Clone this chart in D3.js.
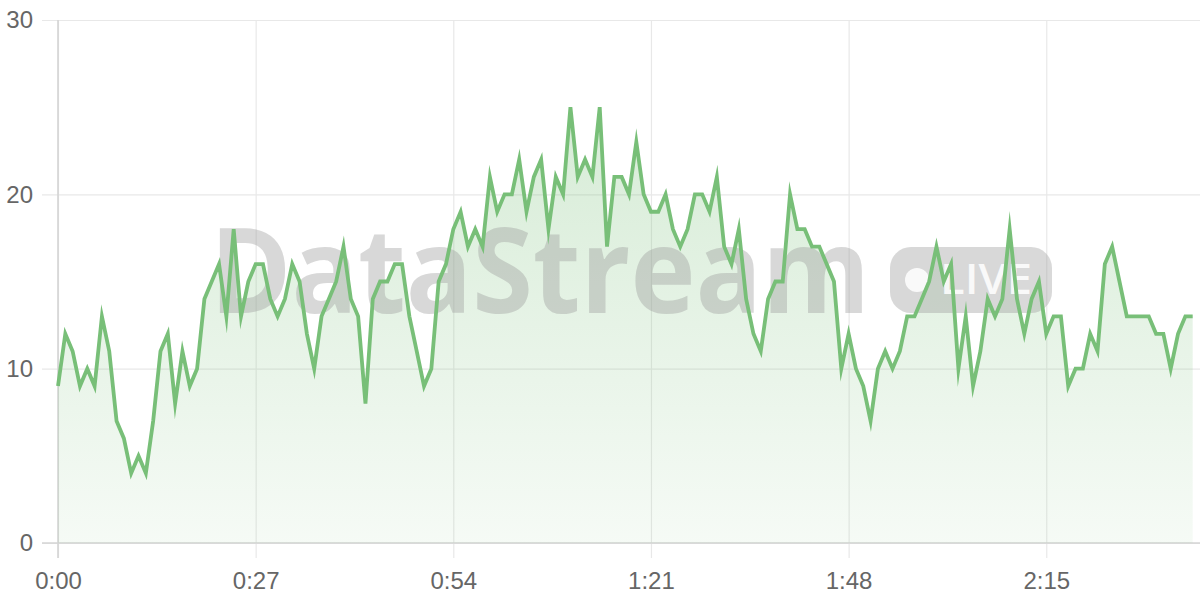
<!DOCTYPE html>
<html>
<head>
<meta charset="utf-8">
<script src="https://cdn.jsdelivr.net/npm/d3@7"></script>
<style>
  body { margin: 0; background: #fff; }
  svg { display: block; }
  .tick text { font-family: "Liberation Sans", Arial, sans-serif; font-size: 24px; fill: #666; }
</style>
</head>
<body>
<div id="chart"></div>
<script>
// chart size
let width = 1200, height = 600;
let margin = { top: 20, right: 0, bottom: 57, left: 58 };

// values, one per second
const counts = [
  9,12,11,9,10,9,13,11,7,6,
  4,5,4,7,11,12,8,11,9,10,
  14,15,16,13,18,13,15,16,16,14,
  13,14,16,15,12,10,13,14,15,17,
  14,13,8,14,15,15,16,16,13,11,
  9,10,15,16,18,19,17,18,17,21,
  19,20,20,22,19,21,22,18,21,20,
  25,21,22,21,25,17,21,21,20,23,
  20,19,19,20,18,17,18,20,20,19,
  21,17,16,18,14,12,11,14,15,15,
  20,18,18,17,17,16,15,10,12,10,
  9,7,10,11,10,11,13,13,14,15,
  17,15,16,10,13,9,11,14,13,14,
  18,14,12,14,15,12,13,13,9,10,
  10,12,11,16,17,15,13,13,13,13,
  12,12,10,12,13,13
];
const seconds = counts.map((d, i) => i);   // sample time in seconds

// axes
const xTickValues = [0, 27, 54, 81, 108, 135];
const xTickLabels = ["0:00", "0:27", "0:54", "1:21", "1:48", "2:15"];
const yTickValues = [0, 10, 20, 30];
const xMax = 156, yMax = 30;

const lineColor = "#78bf78";

let svg = d3.select("#chart").append("svg")
  .attr("width", width)
  .attr("height", height);

let x = d3.scaleLinear().domain([0, xMax]).range([margin.left, width - margin.right]);
let y = d3.scaleLinear().domain([0, yMax]).range([height - margin.bottom, margin.top]);

// gradient for the area
let grad = svg.append("defs").append("linearGradient")
  .attr("id", "fillGrad")
  .attr("gradientUnits", "userSpaceOnUse")
  .attr("x1", 0).attr("x2", 0)
  .attr("y1", y(25)).attr("y2", y(0));
grad.append("stop").attr("offset", 0).attr("stop-color", lineColor).attr("stop-opacity", 0.3);
grad.append("stop").attr("offset", 1).attr("stop-color", lineColor).attr("stop-opacity", 0.07);

// Y grid + labels
let yAxis = svg.append("g")
  .attr("transform", "translate(" + margin.left + ",0)")
  .call(d3.axisLeft(y).tickValues(yTickValues).tickSize(-(width - margin.left - margin.right)).tickPadding(25));
yAxis.select(".domain").remove();
yAxis.selectAll(".tick line").attr("x1", -16).attr("stroke", "#e8e8e8").attr("stroke-width", 1.2);
yAxis.selectAll(".tick text").attr("x", -25);

// X grid + labels
let xAxis = svg.append("g")
  .attr("transform", "translate(0," + (height - margin.bottom) + ")")
  .call(d3.axisBottom(x).tickValues(xTickValues)
    .tickFormat((d, i) => xTickLabels[i])
    .tickSize(-(height - margin.bottom - margin.top)).tickPadding(26));
xAxis.select(".domain").remove();
xAxis.selectAll(".tick line").attr("y1", 15).attr("stroke", "#e8e8e8").attr("stroke-width", 1.2);
xAxis.selectAll(".tick text").attr("y", 29);

// axis lines
svg.append("line")
  .attr("x1", x(0)).attr("x2", x(0))
  .attr("y1", y(yMax)).attr("y2", y(0) + 15)
  .attr("stroke", "#d4d4d4").attr("stroke-width", 1.6);
svg.append("line")
  .attr("x1", x(0) - 16).attr("x2", x(xMax))
  .attr("y1", y(0)).attr("y2", y(0))
  .attr("stroke", "#d4d4d4").attr("stroke-width", 1.6);

// AREA
let area = d3.area()
  .x((d, i) => x(seconds[i]))
  .y0(y(0))
  .y1(d => y(d));
svg.append("path")
  .datum(counts)
  .attr("fill", "url(#fillGrad)")
  .attr("d", area);

// watermark
let wm = svg.append("g").attr("opacity", 0.38);
wm.append("text")
  .attr("x", 210).attr("y", 313)
  .attr("textLength", 660).attr("lengthAdjust", "spacingAndGlyphs")
  .style("font-family", "'Open Sans', Inter, sans-serif")
  .style("font-weight", 700)
  .style("font-size", "118px")
  .attr("fill", "#9a9a9a")
  .text("DataStream");
wm.append("rect")
  .attr("x", 890).attr("y", 247).attr("width", 162).attr("height", 66).attr("rx", 21)
  .attr("fill", "#9a9a9a");
svg.append("circle")
  .attr("cx", 917).attr("cy", 280).attr("r", 12)
  .attr("fill", "#fff").attr("opacity", 0.85);
svg.append("text")
  .attr("x", 940).attr("y", 294)
  .attr("textLength", 92).attr("lengthAdjust", "spacingAndGlyphs")
  .style("font-family", "'Open Sans', sans-serif")
  .style("font-weight", 600)
  .style("font-size", "42px")
  .attr("fill", "#fff").attr("opacity", 0.85)
  .text("LIVE");

// LINE
let line = d3.line()
  .x((d, i) => x(seconds[i]))
  .y(d => y(d));
svg.append("path")
  .datum(counts)
  .attr("fill", "none")
  .attr("stroke", lineColor)
  .attr("stroke-width", 3.8)
  .attr("stroke-linejoin", "miter")
  .attr("stroke-miterlimit", 10)
  .attr("d", line);
</script>
</body>
</html>
